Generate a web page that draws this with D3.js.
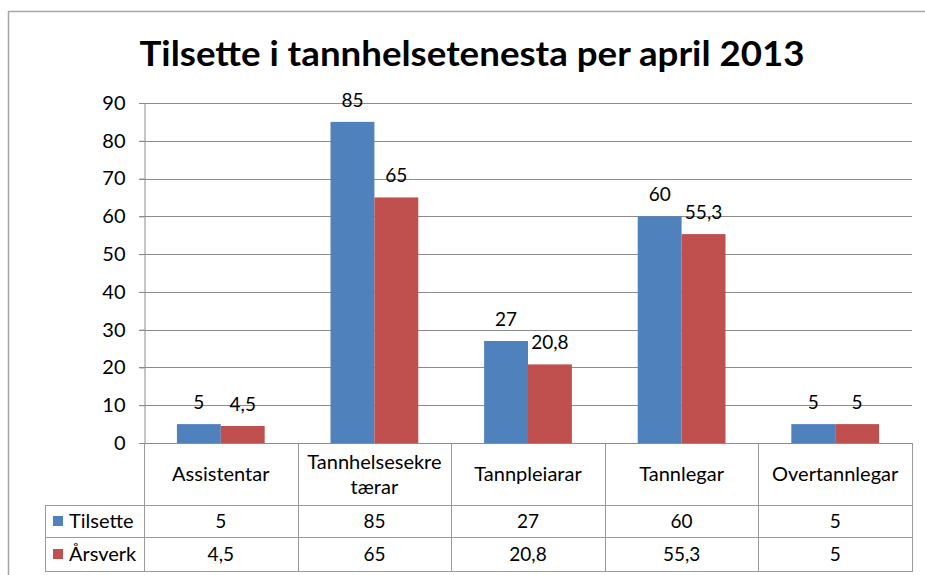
<!DOCTYPE html>
<html>
<head>
<meta charset="utf-8">
<script src="https://cdn.jsdelivr.net/npm/d3@7"></script>
<style>
  html, body { margin: 0; padding: 0; background: #fff; }
  svg { display: block; font-family: Lato, "Open Sans", sans-serif; }
</style>
</head>
<body>
<svg id="chart" width="925" height="575"></svg>
<script>
// Tilsette og årsverk i tannhelsetenesta, april 2013
const title = "Tilsette i tannhelsetenesta per april 2013";
const categories = ["Assistentar", "Tannhelsesekretærar", "Tannpleiarar", "Tannlegar", "Overtannlegar"];
const categoryLines = [["Assistentar"], ["Tannhelsesekre", "tærar"], ["Tannpleiarar"], ["Tannlegar"], ["Overtannlegar"]];
const seriesNames = ["Tilsette", "Årsverk"];
const tilsette = [5, 85, 27, 60, 5];
const aarsverk = [4.5, 65, 20.8, 55.3, 5];
const yTicks = [0, 10, 20, 30, 40, 50, 60, 70, 80, 90];
const colors = ["#4F81BD", "#C0504D"];

const series = [tilsette, aarsverk];
const fmt = v => String(v).replace(".", ",");

const svg = d3.select("#chart");
const plot = { left: 144, right: 912, top: 103, bottom: 443 };
const table = { left: 45, rowCat: 505, rowA: 537, rowB: 571 };

// outer chart frame
svg.append("path")
  .attr("d", `M8.5,575 V11.5 H925`)
  .attr("fill", "none").attr("stroke", "#a6a6a6").attr("stroke-width", 1.5);

// title
svg.append("text")
  .attr("x", 472).attr("y", 66)
  .attr("text-anchor", "middle")
  .attr("font-size", 34).attr("font-weight", 700)
  .attr("fill", "#000")
  .attr("textLength", 665).attr("lengthAdjust", "spacingAndGlyphs")
  .text(title);

const x0 = d3.scaleBand().domain(categories).range([plot.left, plot.right]).paddingInner(0).paddingOuter(0);
// Excel-style 150% gap width: two bars occupy 2/(2+1.5) of each category
const gapFrac = 1.5 / (2 + 1.5);
const x1 = d3.scaleBand().domain(seriesNames)
  .range([0, x0.bandwidth()]).paddingInner(0).paddingOuter(gapFrac / (1 - gapFrac));
const y = d3.scaleLinear().domain([0, 90]).range([plot.bottom, plot.top]);

// gridlines
svg.append("g")
  .selectAll("line").data(yTicks.filter(t => t > 0)).join("line")
  .attr("x1", plot.left - 5).attr("x2", plot.right)
  .attr("y1", d => Math.round(y(d)) + 0.5).attr("y2", d => Math.round(y(d)) + 0.5)
  .attr("stroke", "#8c8c8c").attr("stroke-width", 1);

// y axis
const yAxis = d3.axisLeft(y).tickValues(yTicks).tickSize(5).tickPadding(14).tickFormat(d3.format("d"));
const gy = svg.append("g").attr("transform", `translate(${plot.left + 0.5},0)`).call(yAxis);
gy.select(".domain").attr("stroke", "#8c8c8c");
gy.selectAll(".tick line").attr("stroke", "#8c8c8c");
gy.selectAll(".tick text").attr("font-size", 20).attr("fill", "#000").attr("font-family", "Lato");

// bars
const groups = svg.append("g").selectAll("g").data(categories).join("g")
  .attr("transform", d => `translate(${x0(d)},0)`);
groups.selectAll("rect")
  .data((c, i) => seriesNames.map((s, j) => ({ s, v: series[j][i], j })))
  .join("rect")
  .attr("x", d => x1(d.s)).attr("width", x1.bandwidth())
  .attr("y", d => y(d.v)).attr("height", d => y(0) - y(d.v))
  .attr("fill", d => colors[d.j]);

// value labels above bars
groups.selectAll("text.val")
  .data((c, i) => seriesNames.map((s, j) => ({ s, v: series[j][i], j })))
  .join("text").attr("class", "val")
  .attr("x", d => x1(d.s) + x1.bandwidth() / 2)
  .attr("y", d => y(d.v) - 15)
  .attr("text-anchor", "middle").attr("font-size", 19).attr("fill", "#000")
  .text(d => fmt(d.v));

// data table under the axis
const gridStroke = "#9a9a9a";
const tg = svg.append("g");
const edges = categories.map(c => x0(c)).concat([plot.right]);
// vertical cell borders
tg.selectAll("line.v").data(edges).join("line").attr("class", "v")
  .attr("x1", d => Math.round(d) + 0.5).attr("x2", d => Math.round(d) + 0.5)
  .attr("y1", plot.bottom).attr("y2", table.rowB)
  .attr("stroke", gridStroke);
tg.append("line").attr("x1", table.left + 0.5).attr("x2", table.left + 0.5)
  .attr("y1", table.rowCat).attr("y2", table.rowB).attr("stroke", gridStroke);
// horizontal borders
[table.rowCat, table.rowA, table.rowB].forEach(yy => {
  tg.append("line").attr("x1", table.left).attr("x2", plot.right + 1)
    .attr("y1", yy + 0.5).attr("y2", yy + 0.5).attr("stroke", gridStroke);
});
// category axis line
tg.append("line").attr("x1", plot.left - 5).attr("x2", plot.right)
  .attr("y1", plot.bottom + 0.5).attr("y2", plot.bottom + 0.5).attr("stroke", "#8c8c8c");

// category headers
categories.forEach((c, i) => {
  const lines = categoryLines[i];
  const cx = x0(c) + x0.bandwidth() / 2;
  const midY = (plot.bottom + table.rowCat) / 2;
  const lh = 25;
  lines.forEach((ln, k) => {
    tg.append("text")
      .attr("x", cx)
      .attr("y", midY + (k - (lines.length - 1) / 2) * lh + 7)
      .attr("text-anchor", "middle").attr("font-size", 20).attr("fill", "#000")
      .text(ln);
  });
});

// series rows
const rowTops = [table.rowCat, table.rowA];
const rowBottoms = [table.rowA, table.rowB];
seriesNames.forEach((s, j) => {
  const midY = (rowTops[j] + rowBottoms[j]) / 2;
  tg.append("rect").attr("x", 53).attr("y", midY - 5).attr("width", 10).attr("height", 10)
    .attr("fill", colors[j]);
  tg.append("text").attr("x", 69).attr("y", midY + 7)
    .attr("font-size", 20).attr("fill", "#000").text(s);
  categories.forEach((c, i) => {
    tg.append("text")
      .attr("x", x0(c) + x0.bandwidth() / 2).attr("y", midY + 7)
      .attr("text-anchor", "middle").attr("font-size", 19).attr("fill", "#000")
      .text(fmt(series[j][i]));
  });
});
</script>
</body>
</html>
